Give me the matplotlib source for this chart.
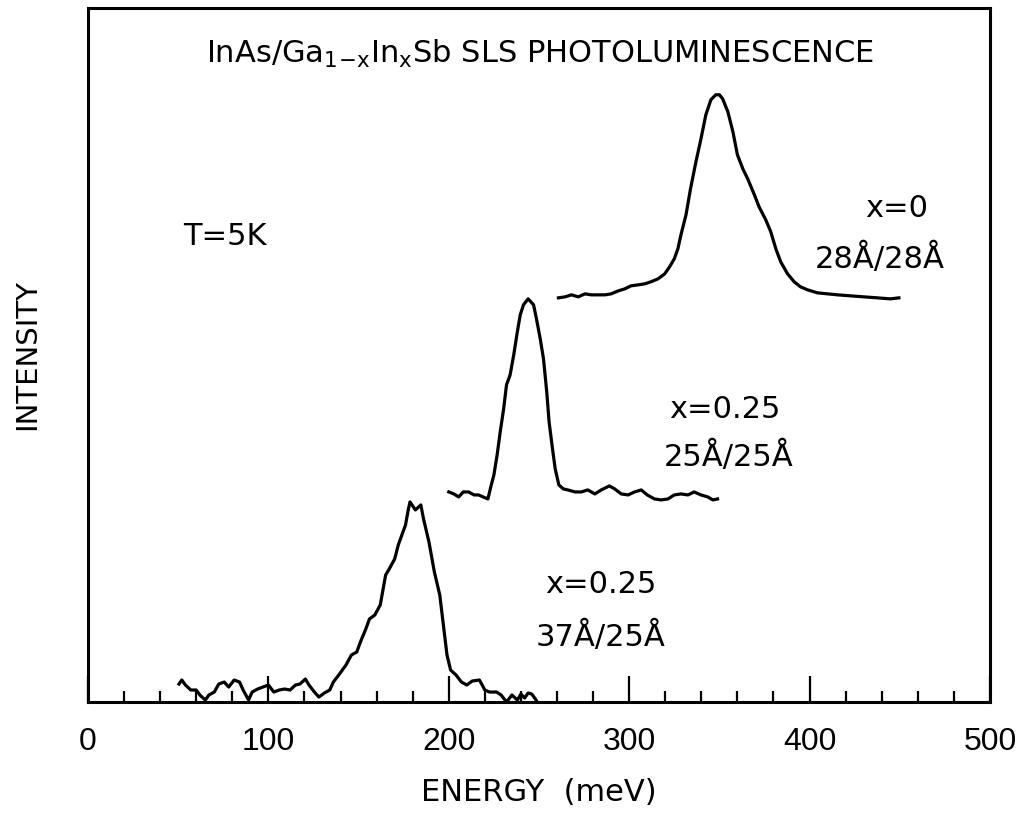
import matplotlib
matplotlib.use("Agg")
import matplotlib.pyplot as plt
from matplotlib.ticker import MultipleLocator

# bottom trace: x=0.25, 37A/25A  (energy in meV, intensity in arb. units)
e_37_25 = [50.4, 52, 54, 57, 60, 62, 65, 67, 70, 72.5, 75.5, 78, 81, 84, 86, 89, 91, 94,
           97, 100, 103, 106, 109, 112, 115, 117.5, 120.5, 122.5, 125.5, 128, 131, 134,
           136, 139, 143, 146, 149, 151, 154, 156, 159, 162, 165, 167, 170, 172, 174,
           176, 177.5, 178.5, 181.5, 184.5, 186, 189, 192, 195, 197, 199, 201, 204, 207,
           210, 213, 217, 220, 222.5, 226.5, 229, 232, 235, 238, 240, 242, 244, 246,
           248, 249]
i_37_25 = [18, 22, 17, 12, 12, 7, 2, 7, 10, 18, 20, 15, 22, 20, 12, 2, 10, 13,
           15, 17, 10, 12, 13, 12, 17, 18, 23, 17, 10, 5, 9, 12,
           20, 27, 37, 47, 50, 60, 73, 83, 87, 97, 127, 133, 143, 157, 167,
           177, 192, 200, 192, 197, 183, 160, 130, 107, 77, 47, 32, 27, 20,
           17, 21, 22, 12, 10, 10, 7, 0, 7, 2, 8, 4, 9, 8,
           3, 0]

# middle trace: x=0.25, 25A/25A
e_25_25 = [200, 202.8, 205.5, 208, 211, 214, 216.5, 219, 221.7, 223, 225, 226.8, 228.5,
           230.4, 232, 234, 236, 238, 239.6, 241.4, 244, 247, 248.6, 250.7, 252.5, 254.3,
           255.6, 257.5, 259, 261, 263.5, 266, 270, 273.5, 277, 281, 284.5, 289, 292,
           295.6, 299.4, 303, 306.7, 310, 314, 317.7, 321.5, 325, 328.7, 332.6, 336,
           339.8, 343.6, 346.4, 349]
i_25_25 = [210, 208, 205, 210, 210, 207, 207, 205, 203, 213, 227, 247, 270,
           293, 317, 327, 347, 370, 387, 397, 403, 397, 383, 363, 343, 310,
           280, 253, 233, 217, 213, 212, 210, 210, 212, 208, 212, 216, 213,
           208, 207, 210, 212, 207, 203, 202, 203, 207, 208, 207, 210,
           207, 205, 202, 203]

# top trace: x=0, 28A/28A
e_28_28 = [260.8, 264.5, 268, 271.8, 275.5, 279, 283, 286.6, 290, 294, 297.6, 301, 305,
           308.6, 312, 316, 319.7, 322.4, 325, 327, 328.7, 331.5, 334, 337, 339.8, 342.5,
           345.3, 348, 350, 351.8, 354.7, 357.5, 360, 363, 365.7, 369.4, 372, 375.7,
           378.5, 381.3, 384, 387.8, 391.5, 395, 398.9, 404.4, 410, 415.5, 422.7, 430,
           437.6, 444.8, 449.5]
i_28_28 = [404, 405, 407, 405, 408, 407, 407, 407, 408, 411, 413, 416, 417,
           418, 420, 423, 428, 435, 443, 453, 467, 487, 513, 540, 563, 587,
           602, 607, 607, 603, 590, 570, 547, 533, 523, 507, 495, 482,
           470, 453, 440, 428, 420, 415, 412, 409, 408, 407, 406, 405,
           404, 403, 404]

title = r'InAs/Ga$_{\mathregular{1\!-\!x}}$In$_{\mathregular{x}}$Sb SLS PHOTOLUMINESCENCE'

fig = plt.figure(figsize=(10.21, 8.13), dpi=100)
ax = fig.add_axes([0.0862, 0.1365, 0.8834, 0.854])

for e, i in [(e_37_25, i_37_25), (e_25_25, i_25_25), (e_28_28, i_28_28)]:
    ax.plot(e, i, color='black', lw=2.3, solid_joinstyle='round')

ax.set_xlim(0, 500)
ax.set_ylim(0, 694)
ax.set_yticks([])
ax.xaxis.set_major_locator(MultipleLocator(100))
ax.xaxis.set_minor_locator(MultipleLocator(20))
ax.tick_params(axis='x', which='major', direction='in', length=19, width=1.6,
               pad=18, labelsize=23)
ax.tick_params(axis='x', which='minor', direction='in', length=8, width=1.6)
for lab in ax.get_xticklabels():
    lab.set_family('Liberation Sans')
for sp in ax.spines.values():
    sp.set_linewidth(2.2)

ax.set_xlabel('ENERGY  (meV)', fontsize=22)
ax.xaxis.set_label_coords(0.5, -0.13)
ax.xaxis.label.set_va('center')
ax.set_ylabel('INTENSITY', fontsize=21)
ax.yaxis.set_label_coords(-0.0676, 0.5)
ax.yaxis.label.set_va('center')

ax.text(250.5, 648, title, fontsize=22, ha='center', va='center')
ax.text(52.7, 465, 'T=5K', fontsize=22, ha='left', va='center')
ax.text(448, 493, 'x=0', fontsize=22, ha='center', va='center')
ax.text(439, 443, '28Å/28Å', fontsize=22, ha='center', va='center')
ax.text(353, 292, 'x=0.25', fontsize=22, ha='center', va='center')
ax.text(355, 246, '25Å/25Å', fontsize=22, ha='center', va='center')
ax.text(284, 117, 'x=0.25', fontsize=22, ha='center', va='center')
ax.text(284, 66, '37Å/25Å', fontsize=22, ha='center', va='center')

fig.savefig('out.png', dpi=100)
